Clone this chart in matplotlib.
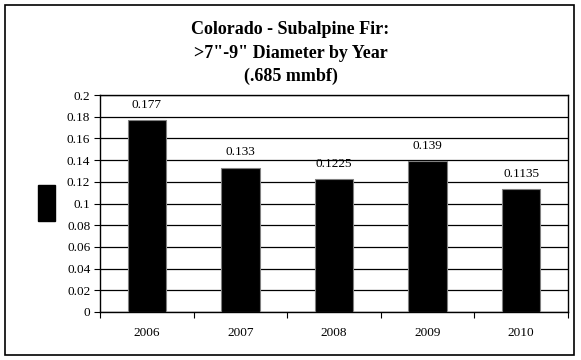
import matplotlib.pyplot as plt
from matplotlib.patches import Rectangle

years = ['2006', '2007', '2008', '2009', '2010']
values = [0.177, 0.133, 0.1225, 0.139, 0.1135]
labels = ['0.177', '0.133', '0.1225', '0.139', '0.1135']
yticks = [0, 0.02, 0.04, 0.06, 0.08, 0.1, 0.12, 0.14, 0.16, 0.18, 0.2]
ytick_labels = ['0', '0.02', '0.04', '0.06', '0.08', '0.1', '0.12', '0.14', '0.16', '0.18', '0.2']

plt.rcParams['font.family'] = ['Liberation Serif', 'DejaVu Serif']

fig = plt.figure(figsize=(5.81, 3.6), dpi=100)
W, H = 581, 360

# outer chart border
fig.patches.append(Rectangle((5 / W, 5 / H), 569 / W, 350 / H, transform=fig.transFigure,
                             fill=False, edgecolor='black', linewidth=1.2))

ax = fig.add_axes([100 / W, (H - 312) / H, 468 / W, 217 / H])
x = range(len(years))
ax.bar(x, values, width=0.41, color='black', edgecolor='#808080', linewidth=0.8, zorder=3)
for i, (v, lab) in enumerate(zip(values, labels)):
    ax.text(i, v + 0.0085, lab, ha='center', va='bottom', fontsize=9.5)

ax.set_xlim(-0.5, len(years) - 0.5)
ax.set_ylim(0, 0.2)
ax.set_yticks(yticks)
ax.set_yticklabels(ytick_labels, fontsize=9.5)
ax.set_xticks([i + 0.5 for i in range(-1, len(years))])
ax.set_xticklabels([''] * (len(years) + 1))
ax.set_xticks(list(x), minor=True)
ax.set_xticklabels(years, minor=True, fontsize=9.5)
ax.tick_params(axis='x', which='minor', length=0, pad=11)
ax.tick_params(axis='x', which='major', length=4, direction='out')
ax.tick_params(axis='y', length=4, direction='out', pad=3)
ax.yaxis.grid(True, color='black', linewidth=0.9, zorder=0)
for s in ax.spines.values():
    s.set_color('black')
    s.set_linewidth(1.0)

fig.text(0.5, 1 - 29 / H, "Colorado - Subalpine Fir:", ha='center', va='center',
         fontsize=13, fontweight='bold')
fig.text(0.5, 1 - 53 / H, '>7"-9" Diameter by Year', ha='center', va='center',
         fontsize=13, fontweight='bold')
fig.text(0.5, 1 - 76 / H, "(.685 mmbf)", ha='center', va='center',
         fontsize=13, fontweight='bold')

# legend key box
fig.patches.append(Rectangle((38 / W, (H - 221) / H), 17 / W, 36 / H, transform=fig.transFigure,
                             facecolor='black', edgecolor='black'))

fig.savefig('out.png', dpi=100)
